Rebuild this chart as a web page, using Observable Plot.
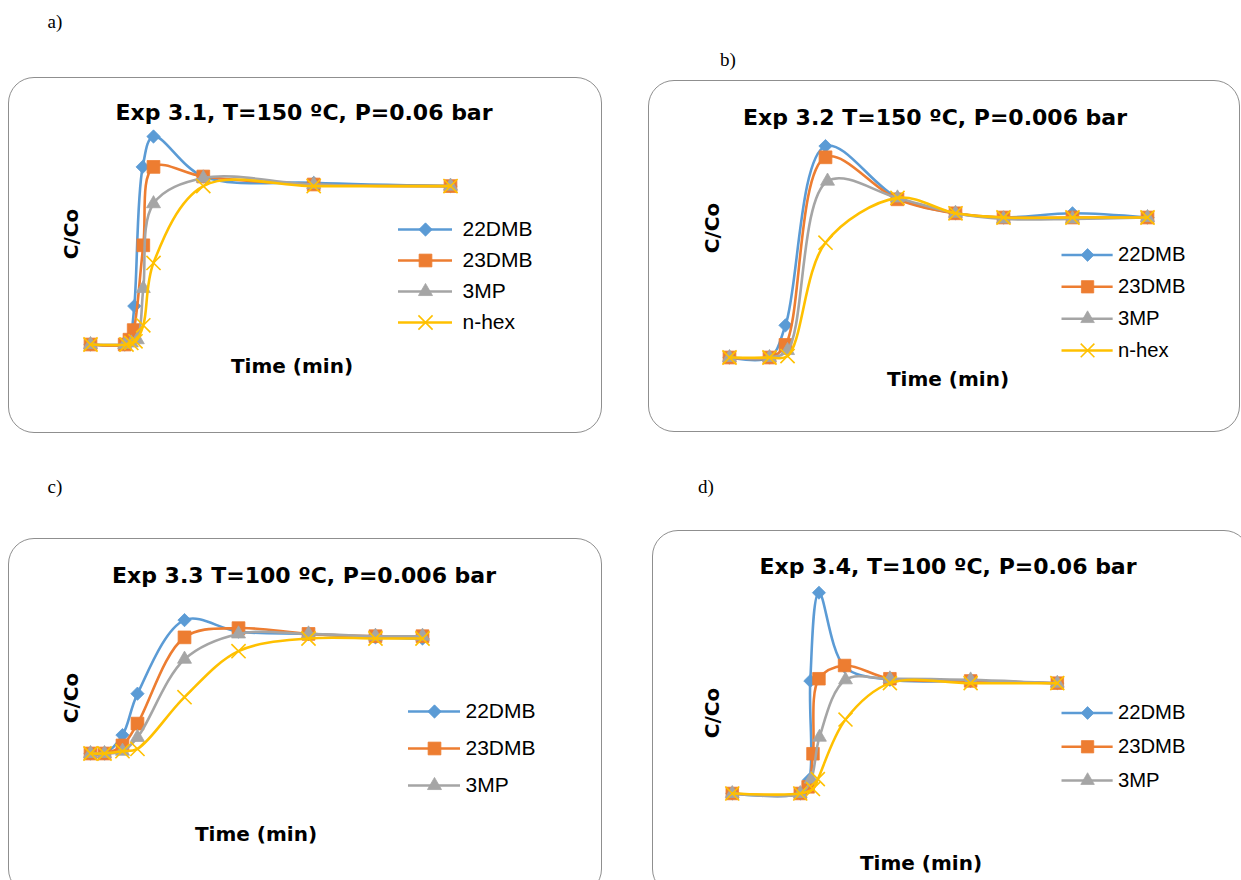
<!DOCTYPE html>
<html><head><meta charset="utf-8">
<script src="https://cdn.jsdelivr.net/npm/d3@7"></script>
<script src="https://cdn.jsdelivr.net/npm/@observablehq/plot@0.6"></script>
<style>
body{margin:0;background:#fff;}
#page{position:relative;width:1241px;height:880px;overflow:hidden;background:#fff;}
.box{position:absolute;border:1px solid #8f8f8f;border-radius:26px;box-sizing:border-box;}
.lbl{position:absolute;transform:translate(-50%,-50%);white-space:nowrap;color:#000;}
.title{font-family:"DejaVu Sans";font-weight:bold;font-size:22px;}
.axl{font-family:"DejaVu Sans";font-weight:bold;font-size:20px;}
.ylab{transform:translate(-50%,-50%) rotate(-90deg);}
.letter{font-family:"Liberation Serif";font-size:19px;}
.plotwrap{position:absolute;}
</style>
</head><body><div id="page"></div>
<script>
// ---------- data ----------
const seriesNames = ["22DMB", "23DMB", "3MP", "n-hex"];
const seriesColors = ["#5B9BD5", "#ED7D31", "#A5A5A5", "#FFC000"];
const seriesSymbols = ["diamond2", "square", "triangle", "times"];

const titles = ["Exp 3.1, T=150 ºC, P=0.06 bar", "Exp 3.2 T=150 ºC, P=0.006 bar", "Exp 3.3 T=100 ºC, P=0.006 bar", "Exp 3.4, T=100 ºC, P=0.06 bar"];
const panelLetters = ["a)", "b)", "c)", "d)"];
const xLabel = "Time (min)";
const yLabel = "C/Co";

// Exp 3.1 : time (min) and C/Co per series (22DMB, 23DMB, 3MP, n-hex)
const expA_t = [
  [0, 5.7, 6.5, 7.3, 8.7, 10.5, 18.8, 37.2, 60],
  [0, 5.7, 6.5, 7.2, 8.8, 10.5, 18.8, 37.2, 60],
  [0, 5.7, 6.8, 7.8, 8.8, 10.5, 18.8, 37.2, 60],
  [0, 6.0, 6.8, 7.5, 8.8, 10.5, 18.8, 37.2, 60]
];
const expA_c = [
  [0, 0, 0.03, 0.24, 1.11, 1.30, 1.05, 1.01, 0.99],
  [0, 0, 0.03, 0.09, 0.62, 1.11, 1.05, 1.00, 0.99],
  [0, 0, 0.01, 0.03, 0.35, 0.88, 1.04, 1.00, 0.99],
  [0, 0, 0.01, 0.02, 0.12, 0.51, 0.99, 0.99, 0.99]
];
// Exp 3.2
const expB_t = [
  [0, 5.74, 8.04, 13.78, 24.11, 32.44, 39.33, 49.23, 60],
  [0, 5.74, 8.04, 13.78, 24.11, 32.44, 39.33, 49.23, 60],
  [0, 5.74, 8.33, 14.07, 24.11, 32.44, 39.33, 49.23, 60],
  [0, 5.74, 8.33, 13.78, 24.11, 32.44, 39.33, 49.23, 60]
];
const expB_c = [
  [0, 0, 0.23, 1.51, 1.14, 1.03, 1.00, 1.03, 1.00],
  [0, 0, 0.09, 1.43, 1.13, 1.03, 1.00, 1.00, 1.00],
  [0, 0, 0.05, 1.26, 1.14, 1.03, 0.99, 0.99, 1.00],
  [0, 0, 0.01, 0.82, 1.14, 1.03, 1.00, 1.00, 1.00]
];
// Exp 3.3
const expC_t = [
  [0, 2.53, 5.78, 8.49, 16.99, 26.75, 39.4, 51.5, 60],
  [0, 2.53, 5.78, 8.49, 16.99, 26.75, 39.4, 51.5, 60],
  [0, 2.53, 5.78, 8.49, 16.99, 26.75, 39.4, 51.5, 60],
  [0, 2.53, 5.78, 8.49, 16.99, 26.75, 39.4, 51.5, 60]
];
const expC_c = [
  [0, 0, 0.16, 0.52, 1.16, 1.06, 1.04, 1.01, 1.00],
  [0, 0, 0.07, 0.26, 1.01, 1.09, 1.04, 1.02, 1.02],
  [0, 0, 0.02, 0.14, 0.82, 1.04, 1.04, 1.02, 1.02],
  [0, 0, 0.02, 0.04, 0.49, 0.89, 1.00, 1.00, 1.00]
];
// Exp 3.4
const expD_t = [
  [0, 12.55, 14.2, 14.4, 16.0, 20.73, 29.1, 44.0, 60],
  [0, 12.55, 14.0, 14.9, 16.0, 20.73, 29.1, 44.0, 60],
  [0, 12.55, 14.55, 16.1, 20.9, 29.1, 44.0, 60],
  [0, 12.55, 14.9, 15.8, 20.9, 29.1, 44.0, 60]
];
const expD_c = [
  [0, 0, 0.125, 1.02, 1.82, 1.15, 1.03, 1.02, 1.00],
  [0, 0, 0.06, 0.36, 1.04, 1.16, 1.04, 1.02, 1.00],
  [0, 0, 0.13, 0.51, 1.03, 1.04, 1.03, 1.00],
  [0, 0, 0.04, 0.13, 0.67, 1.00, 1.00, 1.00]
];

// ---------- layout ----------
const layout = [
  {box:[8,77,602,433], title:[304,112], ylab:[71,234], xlab:[292,366], letter:[55,22],
   xPx:[90,450], yPx:[344,184], legend:{x:[398,452], text:462, rows:[229,322], n:4}, t:expA_t, c:expA_c},
  {box:[648,80,1240,432], title:[935,117], ylab:[712,228], xlab:[948,379], letter:[728,60],
   xPx:[729,1147], yPx:[357,217], legend:{x:[1062,1115], text:1120, rows:[254,355], n:4}, t:expB_t, c:expB_c},
  {box:[8,538,602,895], title:[304,575], ylab:[71,698], xlab:[256,834], letter:[55,487],
   xPx:[90,422], yPx:[753,638], legend:{x:[408,460], text:465, rows:[711,785], n:3}, t:expC_t, c:expC_c},
  {box:[652,530,1250,895], title:[948,566], ylab:[712,713], xlab:[921,863], letter:[706,487],
   xPx:[733,1063], yPx:[797,685], legend:{x:[1062,1115], text:1120, rows:[713,783], n:3}, t:expD_t, c:expD_c}
];
const symR = {"diamond2":6, "square":7.2, "triangle":5.2, "times":6.5};

const page = document.getElementById("page");
function addLabel(text, cls, pos){
  const d = document.createElement("div");
  d.className = "lbl " + cls;
  d.textContent = text;
  d.style.left = pos[0] + "px"; d.style.top = pos[1] + "px";
  page.appendChild(d);
}
function place(el, left, top){
  const w = document.createElement("div");
  w.className = "plotwrap";
  w.style.left = left + "px"; w.style.top = top + "px";
  w.appendChild(el); page.appendChild(w);
}
const colorScale = {domain: seriesNames, range: seriesColors};
const symbolScale = {domain: seriesNames, range: seriesSymbols};

function symbolDot(rows, i, xAcc, yAcc){
  const sym = seriesSymbols[i];
  if (sym === "times") {
    return Plot.dot(rows, {x:xAcc, y:yAcc, symbol:"name", stroke:"name", strokeWidth:1.6, fill:"none", r:symR[sym]});
  }
  return Plot.dot(rows, {x:xAcc, y:yAcc, symbol:"name", fill:"name", stroke:"name", strokeWidth:0.8, r:symR[sym]});
}

layout.forEach((L, p) => {
  const [bx0, by0, bx1, by1] = L.box;
  const box = document.createElement("div");
  box.className = "box";
  box.style.left = bx0 + "px"; box.style.top = by0 + "px";
  box.style.width = (bx1 - bx0) + "px"; box.style.height = (by1 - by0) + "px";
  page.appendChild(box);

  const W = bx1 - bx0, H = by1 - by0;
  const marks = [];
  seriesNames.forEach((name, i) => {
    const rows = L.t[i].map((t, j) => ({name, t, c: L.c[i][j]}));
    marks.push(Plot.line(rows, {x:"t", y:"c", stroke:"name", strokeWidth:2.6, curve:"catmull-rom"}));
    marks.push(symbolDot(rows, i, "t", "c"));
  });
  const chart = Plot.plot({
    width: W, height: H,
    x: {domain:[0,60], range:[L.xPx[0]-bx0, L.xPx[1]-bx0], axis:null},
    y: {domain:[0,1], range:[L.yPx[0]-by0, L.yPx[1]-by0], axis:null},
    color: colorScale, symbol: symbolScale,
    style: {background:"transparent", overflow:"visible"},
    marks
  });
  place(chart, bx0, by0);

  // legend (drawn with Plot)
  const lg = L.legend;
  const names = seriesNames.slice(0, lg.n);
  const lw = 200, pad = 14;
  const lh = (lg.rows[1] - lg.rows[0]) + 2*pad;
  const textX = (lg.text - lg.x[0]) / (lg.x[1] - lg.x[0]);
  const lmarks = [];
  names.forEach((name, i) => {
    const r = [{name}];
    lmarks.push(Plot.ruleY(r, {y:"name", x1:0, x2:1, stroke:"name", strokeWidth:2.6}));
    lmarks.push(symbolDot(r, i, () => 0.5, "name"));
  });
  lmarks.push(Plot.text(names.map(name => ({name})), {x:textX, y:"name", text:"name", textAnchor:"start", fontSize:21, fill:"#000"}));
  const legend = Plot.plot({
    width: lw, height: lh,
    x: {domain:[0,1], range:[pad, pad + lg.x[1] - lg.x[0]], axis:null},
    y: {type:"point", domain:names, range:[pad, pad + lg.rows[1] - lg.rows[0]], padding:0, axis:null},
    color: colorScale, symbol: symbolScale,
    style: {background:"transparent", overflow:"visible", fontFamily:"Liberation Sans"},
    marks: lmarks
  });
  place(legend, lg.x[0] - pad, lg.rows[0] - pad);

  addLabel(titles[p], "title", L.title);
  addLabel(yLabel, "axl ylab", L.ylab);
  addLabel(xLabel, "axl", L.xlab);
  addLabel(panelLetters[p], "letter", L.letter);
});
</script>
</body></html>
